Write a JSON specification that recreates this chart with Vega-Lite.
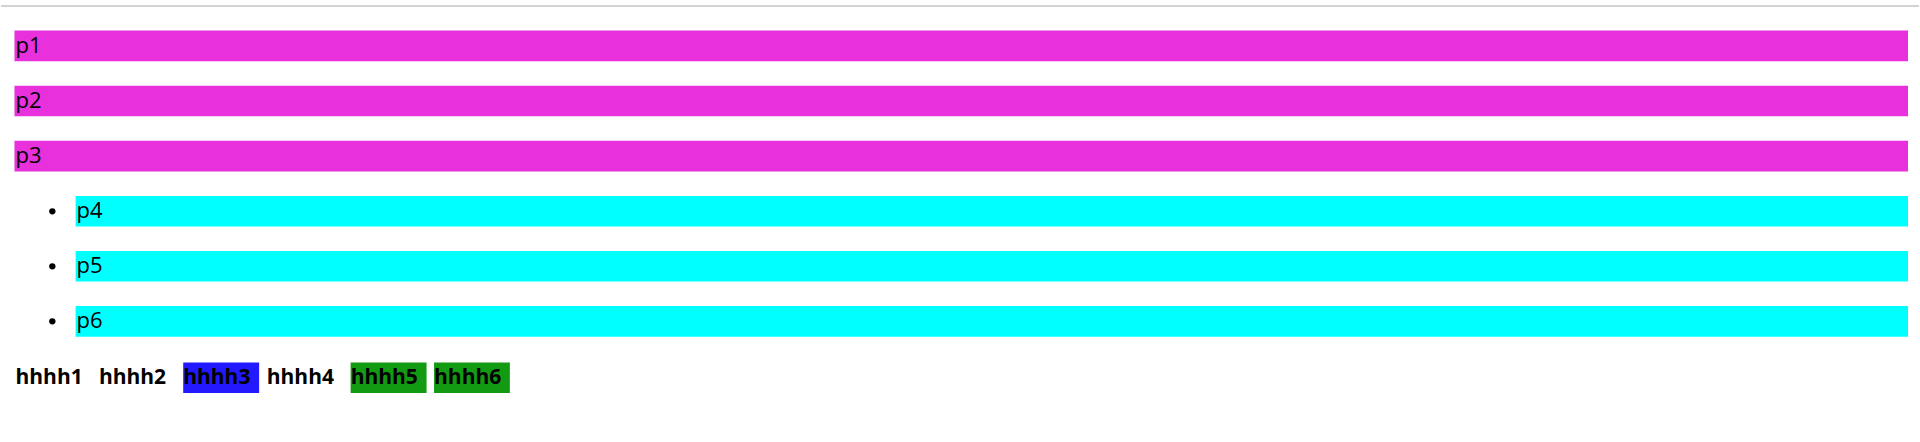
{
  "$schema": "https://vega.github.io/schema/vega-lite/v6.json",
  "autosize": {"type": "fit", "contains": "padding"},
  "width": 1920,
  "height": 442,
  "padding": 0,
  "background": "white",
  "config": {"view": {"stroke": null}},
  "datasets": {
    "bars": [
      {"label": "p1", "x": 13.5, "x2": 1909, "y": 30.6, "y2": 61.2, "color": "#e830dc"},
      {"label": "p2", "x": 13.5, "x2": 1909, "y": 85.7, "y2": 116.3, "color": "#e830dc"},
      {"label": "p3", "x": 13.5, "x2": 1909, "y": 140.8, "y2": 171.4, "color": "#e830dc"},
      {"label": "p4", "x": 74.7, "x2": 1909, "y": 196, "y2": 226.5, "color": "#00ffff", "bullet": true},
      {"label": "p5", "x": 74.7, "x2": 1909, "y": 251, "y2": 281.6, "color": "#00ffff", "bullet": true},
      {"label": "p6", "x": 74.7, "x2": 1909, "y": 306, "y2": 336.7, "color": "#00ffff", "bullet": true}
    ],
    "words": [
      {"label": "hhhh1", "x": 14.5, "x2": 90, "y": 362.5, "y2": 393, "color": "transparent"},
      {"label": "hhhh2", "x": 98, "x2": 174, "y": 362.5, "y2": 393, "color": "transparent"},
      {"label": "hhhh3", "x": 182.4, "x2": 258.4, "y": 362.5, "y2": 393, "color": "#2219ff"},
      {"label": "hhhh4", "x": 266, "x2": 342, "y": 362.5, "y2": 393, "color": "transparent"},
      {"label": "hhhh5", "x": 350, "x2": 426, "y": 362.5, "y2": 393, "color": "#139a13"},
      {"label": "hhhh6", "x": 433.5, "x2": 509.4, "y": 362.5, "y2": 393, "color": "#139a13"}
    ],
    "line": [{"x": 0, "x2": 1920, "y": 6}]
  },
  "layer": [
    {
      "data": {"name": "line"},
      "mark": {"type": "rule", "color": "#d3d3d3", "strokeWidth": 2},
      "encoding": {
        "x": {"field": "x", "type": "quantitative", "scale": {"domain": [0, 1920], "nice": false, "zero": false}, "axis": null},
        "x2": {"field": "x2"},
        "y": {"field": "y", "type": "quantitative", "scale": {"domain": [0, 442], "reverse": true, "nice": false, "zero": false}, "axis": null}
      }
    },
    {
      "data": {"name": "bars"},
      "layer": [
        {
          "mark": {"type": "rect"},
          "encoding": {
            "x": {"field": "x", "type": "quantitative", "axis": null},
            "x2": {"field": "x2"},
            "y": {"field": "y", "type": "quantitative", "axis": null},
            "y2": {"field": "y2"},
            "color": {"field": "color", "type": "nominal", "scale": null}
          }
        },
        {
          "transform": [{"filter": "datum.bullet"}],
          "mark": {"type": "circle", "color": "black", "opacity": 1, "size": 40, "xOffset": -23.3, "yOffset": 15.3},
          "encoding": {
            "x": {"field": "x", "type": "quantitative"},
            "y": {"field": "y", "type": "quantitative"}
          }
        },
        {
          "mark": {"type": "text", "align": "left", "baseline": "middle", "font": "Open Sans", "fontSize": 22, "color": "black", "dx": 1, "yOffset": 15.3},
          "encoding": {
            "x": {"field": "x", "type": "quantitative"},
            "y": {"field": "y", "type": "quantitative"},
            "text": {"field": "label"}
          }
        }
      ]
    },
    {
      "data": {"name": "words"},
      "layer": [
        {
          "mark": {"type": "rect"},
          "encoding": {
            "x": {"field": "x", "type": "quantitative"},
            "x2": {"field": "x2"},
            "y": {"field": "y", "type": "quantitative"},
            "y2": {"field": "y2"},
            "color": {"field": "color", "type": "nominal", "scale": null}
          }
        },
        {
          "mark": {"type": "text", "align": "left", "baseline": "middle", "font": "Open Sans", "fontWeight": "bold", "fontSize": 21, "color": "black", "yOffset": 15.3},
          "encoding": {
            "x": {"field": "x", "type": "quantitative"},
            "y": {"field": "y", "type": "quantitative"},
            "text": {"field": "label"}
          }
        }
      ]
    }
  ]
}
